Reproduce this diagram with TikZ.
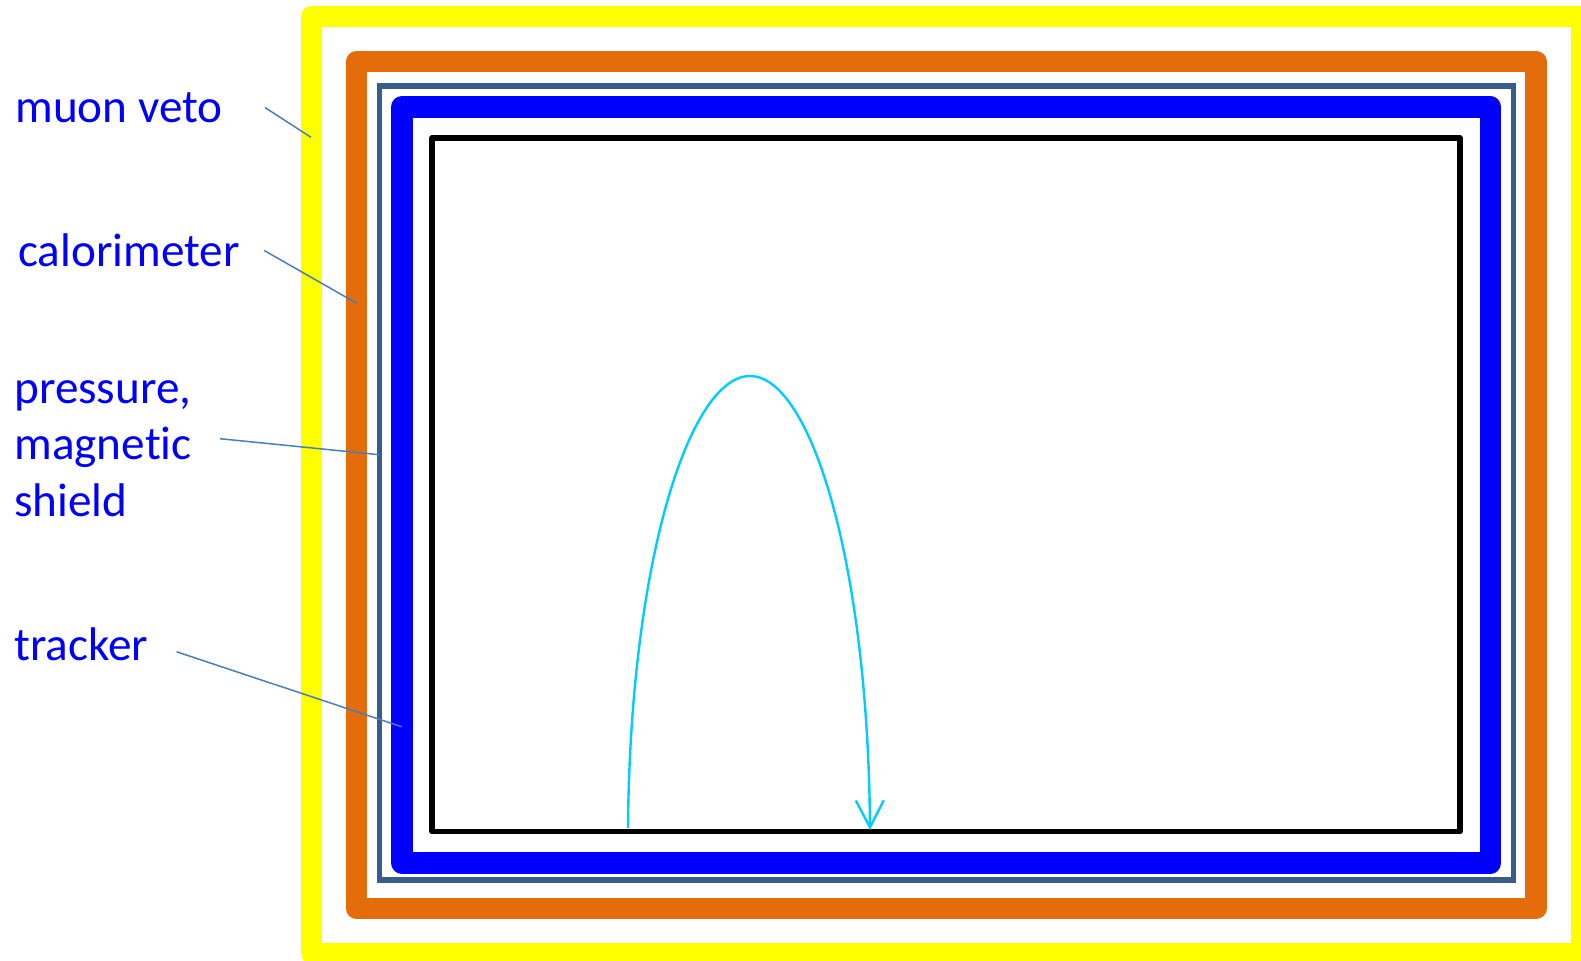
\documentclass[tikz,border=0pt]{standalone}
\usepackage{fontspec}
\setmainfont{Carlito}[Ligatures=NoCommon]
\usetikzlibrary{arrows.meta}
\definecolor{vetoyellow}{HTML}{FFFF00}
\definecolor{caloorange}{HTML}{E46C0A}
\definecolor{shieldslate}{HTML}{385D8A}
\definecolor{leaderblue}{HTML}{4A7EBB}
\definecolor{trackcyan}{HTML}{00CCFF}
\tikzset{every path/.style={line join=round},
  leader/.style={draw=leaderblue, line width=0.75pt},
  layername/.style={text=blue, font=\fontsize{23.6}{28.35}\selectfont,
    inner sep=0pt, anchor=base west, align=left}}

\begin{document}
\begin{tikzpicture}[x=0.5pt,y=-0.5pt]
  \useasboundingbox (0,0) rectangle (1581,961);
  % layers, outside in
  \draw[vetoyellow, line width=10.5pt] (311.5,16.5) rectangle (1581,953.5);
  \draw[caloorange, line width=10.75pt] (356.5,61.7) rectangle (1536,908.3);
  \draw[shieldslate, line width=2.8pt, line join=miter] (379.5,86) rectangle (1513.3,880);
  \draw[blue, line width=10.8pt] (401.8,107.2) rectangle (1490.5,862.8);
  \draw[black, line width=2.6pt] (432,138) rectangle (1460,831.7);

  % track
  \draw[trackcyan, line width=1.2pt, -{Straight Barb[length=13.5pt,width=14pt]}]
    (628,828) .. controls (630,560) and (690,376) .. (750,376)
    .. controls (810,376) and (868,560) .. (870,830);

  % names
  \node[layername] (muon) at (15,122.3) {muon veto};
  \node[layername] (calo) at (18,266.7) {calorimeter};
  \node[layername] (shield) at (14,516.7) {pressure,\\magnetic\\shield};
  \node[layername] (tracker) at (14,661) {tracker};

  \coordinate (muon-end) at (311,137.3);
  \coordinate (calo-end) at (356.7,303.3);
  \coordinate (shield-end) at (379,454.7);
  \coordinate (tracker-end) at (401.7,726.7);
  \draw[leader] ([shift={(42,0)}]muon.east) -- (muon-end);
  \draw[leader] ([shift={(24,0)}]calo.east) -- (calo-end);
  \draw[leader] ([shift={(28,-10)}]shield.east) -- (shield-end);
  \draw[leader] ([shift={(28,7)}]tracker.east) -- (tracker-end);
\end{tikzpicture}
\end{document}
